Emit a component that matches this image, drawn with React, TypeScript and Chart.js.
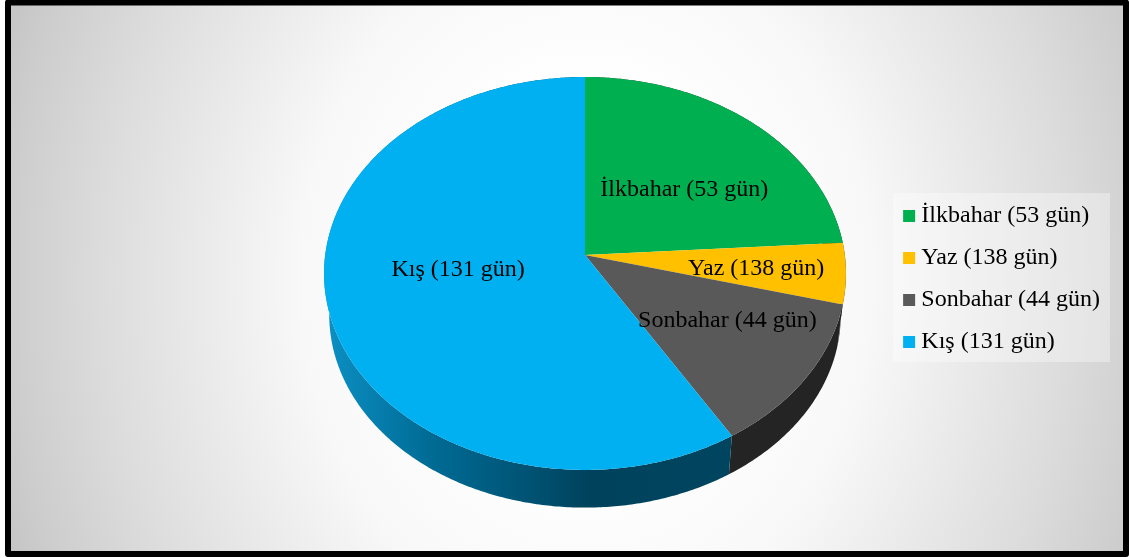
import React, { useEffect, useRef } from "react";
import { Chart, PieController, ArcElement, Legend } from "chart.js";

// Values printed in the chart
const categories = ["İlkbahar (53 gün)", "Yaz (138 gün)", "Sonbahar (44 gün)", "Kış (131 gün)"];
// Slice sizes (percent of the drawn pie)
const sliceShares = [24, 5, 12.3, 58.7];
const sliceColors = ["#00B050", "#FFC000", "#595959", "#00B0F0"];

// Inside-label placement (fraction of radius, turn from slice middle in degrees)
const labelRadius = [0.53, 0.658, 0.62, 0.49];
const labelTurn = [5, 0, -5.6, 7.6];

// Perspective projection of the tilted pie
const CX = 585;
const CY = 255;
const A = 259.8;
const B = 194.7;
const K = -0.0941;
const WALL_DROP = 42;
const WALL_SCALE = 0.98;

function project(a: number, r = 1, drop = 0, s = 1): [number, number] {
  const u = Math.cos(a) * r;
  const v = Math.sin(a) * r;
  const w = 1 + K * v;
  return [CX + (s * A * u) / w, CY + drop + (s * B * v) / w];
}

function rimPoints(a0: number, a1: number, drop = 0, s = 1) {
  const n = Math.max(2, Math.ceil(Math.abs(a1 - a0) / 0.01));
  const pts: [number, number][] = [];
  for (let i = 0; i <= n; i++) pts.push(project(a0 + ((a1 - a0) * i) / n, 1, drop, s));
  return pts;
}

class TiltedArc extends ArcElement {
  static id = "tiltedArc";
  drawWall(ctx: CanvasRenderingContext2D, index: number) {
    const { startAngle, endAngle } = (this as any).getProps(["startAngle", "endAngle"], true);
    const top = rimPoints(startAngle, endAngle);
    const bottom = rimPoints(endAngle, startAngle, WALL_DROP, WALL_SCALE);
    ctx.beginPath();
    top.forEach((p, i) => (i ? ctx.lineTo(p[0], p[1]) : ctx.moveTo(p[0], p[1])));
    bottom.forEach((p) => ctx.lineTo(p[0], p[1]));
    ctx.closePath();
    if (index === 3) {
      const g = ctx.createLinearGradient(325, 0, 735, 0);
      g.addColorStop(0, "#0C90C4");
      g.addColorStop(0.25, "#006C96");
      g.addColorStop(0.5, "#005273");
      g.addColorStop(0.65, "#00425C");
      g.addColorStop(1, "#004560");
      ctx.fillStyle = g;
    } else {
      ctx.fillStyle = index === 2 ? "#242424" : "#333333";
    }
    ctx.fill();
  }
  draw(ctx: CanvasRenderingContext2D) {
    const { startAngle, endAngle } = (this as any).getProps(["startAngle", "endAngle"], true);
    ctx.save();
    ctx.beginPath();
    ctx.moveTo(CX, CY);
    rimPoints(startAngle, endAngle).forEach((p) => ctx.lineTo(p[0], p[1]));
    ctx.closePath();
    ctx.fillStyle = (this as any).options.backgroundColor;
    ctx.fill();
    ctx.restore();
  }
}

class TiltedPie extends PieController {
  static id = "tiltedPie";
  static defaults = { dataElementType: "tiltedArc" };
  draw() {
    const ctx = (this as any).chart.ctx;
    const arcs = (this as any)._cachedMeta.data as TiltedArc[];
    ctx.save();
    arcs.forEach((arc, i) => arc.drawWall(ctx, i));
    ctx.restore();
    arcs.forEach((arc) => arc.draw(ctx));
  }
}

Chart.register(PieController, ArcElement, Legend, TiltedArc, TiltedPie);

const framePlugin = {
  id: "frame",
  beforeDraw(chart: any) {
    const ctx = chart.ctx as CanvasRenderingContext2D;
    ctx.save();
    ctx.fillStyle = "#ffffff";
    ctx.fillRect(0, 0, 1129, 558);
    ctx.beginPath();
    ctx.rect(8, 2, 1118, 552);
    ctx.clip();
    ctx.translate(585, 280);
    ctx.scale(620, 756);
    const g = ctx.createRadialGradient(0, 0, 0, 0, 0, 1);
    g.addColorStop(0, "#ffffff");
    g.addColorStop(0.28, "#fefefe");
    g.addColorStop(0.46, "#f8f8f8");
    g.addColorStop(0.62, "#eaeaea");
    g.addColorStop(0.78, "#dcdcdc");
    g.addColorStop(0.93, "#cdcdcd");
    g.addColorStop(1, "#c4c4c4");
    ctx.fillStyle = g;
    ctx.fillRect(-1, -1, 2, 2);
    ctx.restore();
    ctx.save();
    ctx.strokeStyle = "#000000";
    ctx.lineWidth = 6;
    ctx.lineJoin = "round";
    ctx.strokeRect(8, 2.5, 1118, 551.5);
    ctx.fillStyle = "rgba(255,255,255,0.35)";
    ctx.fillRect(893, 193, 217, 169);
    ctx.restore();
  },
};

const sliceLabelPlugin = {
  id: "sliceLabels",
  afterDatasetsDraw(chart: any) {
    const ctx = chart.ctx as CanvasRenderingContext2D;
    const arcs = chart.getDatasetMeta(0).data;
    ctx.save();
    ctx.font = "24px 'Liberation Serif'";
    ctx.fillStyle = "#000000";
    ctx.textAlign = "center";
    ctx.textBaseline = "middle";
    arcs.forEach((arc: any, i: number) => {
      const mid = (arc.startAngle + arc.endAngle) / 2 + (labelTurn[i] * Math.PI) / 180;
      const [x, y] = project(mid, labelRadius[i]);
      ctx.fillText(categories[i], x, y + 1.5);
    });
    ctx.restore();
  },
};

export default function App() {
  const ref = useRef<HTMLCanvasElement | null>(null);
  useEffect(() => {
    document.body.style.margin = "0";
    const chart = new Chart(ref.current as HTMLCanvasElement, {
      type: "tiltedPie" as any,
      data: {
        labels: categories,
        datasets: [{ data: sliceShares, backgroundColor: sliceColors, borderWidth: 0 }],
      },
      options: {
        responsive: false,
        animation: false,
        devicePixelRatio: 1,
        layout: { padding: { right: 19, top: 0, bottom: 0 } },
        plugins: {
          tooltip: { enabled: false },
          legend: {
            display: true,
            position: "right",
            labels: {
              usePointStyle: true,
              pointStyle: "rect",
              boxWidth: 0.5,
              boxHeight: 12,
              padding: 18,
              color: "#000000",
              font: { family: "'Liberation Serif'", size: 24 },
            },
          },
        },
      } as any,
      plugins: [framePlugin, sliceLabelPlugin],
    });
    return () => chart.destroy();
  }, []);
  return <canvas ref={ref} width={1129} height={558} style={{ display: "block" }} />;
}
